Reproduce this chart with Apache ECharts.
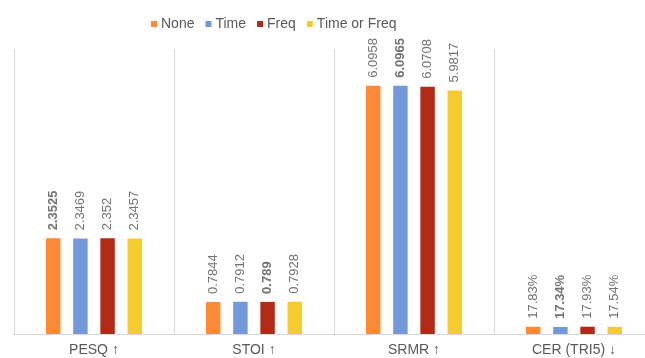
<!DOCTYPE html>
<html>
<head>
<meta charset="utf-8">
<script src="https://cdn.jsdelivr.net/npm/echarts@6/dist/echarts.min.js"></script>
<style>
  html, body { margin: 0; padding: 0; background: #fff; }
  #chart { width: 645px; height: 358px; }
</style>
</head>
<body>
<div id="chart"></div>
<script>
// Metric groups along the x axis
const categories = ['PESQ ↑', 'STOI ↑', 'SRMR ↑', 'CER (TRI5) ↓'];
// Augmentation variants
const seriesNames = ['None', 'Time', 'Freq', 'Time or Freq'];
// Scores per variant (CER stored as a fraction, shown as a percentage)
const noneValues = [2.3525, 0.7844, 6.0958, 0.1783];
const timeValues = [2.3469, 0.7912, 6.0965, 0.1734];
const freqValues = [2.352, 0.789, 6.0708, 0.1793];
const timeOrFreqValues = [2.3457, 0.7928, 5.9817, 0.1754];
// Index of the best variant for each metric (its label is bold)
const bestVariant = [0, 2, 1, 1];

const colors = ['#FE8A37', '#7499D9', '#B12B17', '#F4CD2D'];
const allValues = [noneValues, timeValues, freqValues, timeOrFreqValues];

function fmt(v, catIdx) {
  if (catIdx === 3) return (Math.round(v * 10000) / 100).toFixed(2) + '%';
  return String(v);
}

const series = seriesNames.map((name, s) => ({
  name,
  type: 'bar',
  barGap: '88%',
  barCategoryGap: '40%',
  itemStyle: { color: colors[s] },
  data: allValues[s].map((v, c) => ({
    value: v,
    label: { fontWeight: bestVariant[c] === s ? 'bold' : 'normal' }
  })),
  label: {
    show: true,
    position: 'top',
    rotate: 90,
    align: 'left',
    verticalAlign: 'middle',
    distance: 8,
    color: '#737373',
    fontSize: 13,
    fontFamily: 'Liberation Sans, Arial, sans-serif',
    formatter: p => fmt(p.value, p.dataIndex)
  }
}));

const chart = echarts.init(document.getElementById('chart'));
chart.setOption({
  animation: false,
  backgroundColor: '#ffffff',
  legend: {
    top: 12,
    left: 146,
    itemWidth: 6,
    itemHeight: 6,
    itemGap: 11,
    icon: 'rect',
    textStyle: {
      color: '#595959',
      fontSize: 14,
      fontFamily: 'Liberation Sans, Arial, sans-serif',
      padding: [0, 0, 0, -1]
    },
    data: seriesNames
  },
  // the last group's right edge runs past the canvas
  grid: { left: 14, width: 640, top: 49, bottom: 24, outerBoundsMode: 'none' },
  xAxis: {
    type: 'category',
    data: categories,
    axisLine: { lineStyle: { color: '#d9d9d9' } },
    axisTick: { show: false },
    splitLine: { show: true, interval: 0, lineStyle: { color: '#d9d9d9' } },
    axisLabel: {
      color: '#595959',
      fontSize: 14,
      margin: 9,
      fontFamily: 'Liberation Sans, Arial, sans-serif'
    }
  },
  yAxis: {
    type: 'value',
    min: 0,
    max: 7,
    show: false,
    splitLine: { show: false }
  },
  series
});
</script>
</body>
</html>
